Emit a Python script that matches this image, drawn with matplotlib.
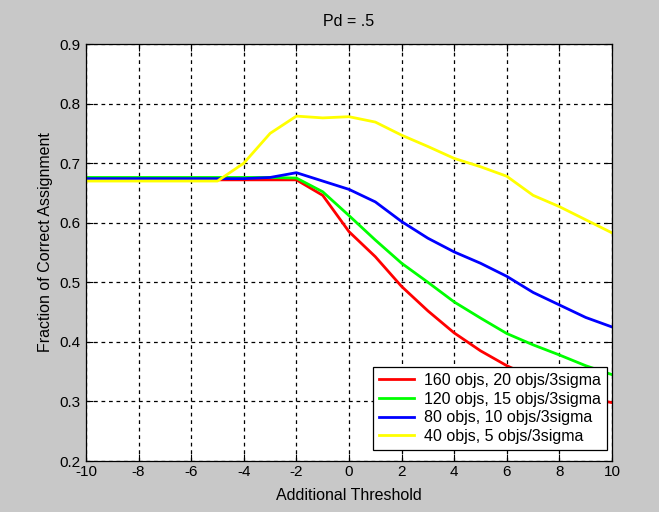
import matplotlib
matplotlib.use("Agg")
import matplotlib.pyplot as plt

plt.rcParams["font.family"] = ["Liberation Sans", "DejaVu Sans"]
plt.rcParams["axes.unicode_minus"] = False

threshold = list(range(-10, 11))

frac_160 = [0.672, 0.672, 0.672, 0.672, 0.672, 0.672, 0.672, 0.672, 0.672, 0.646,
            0.585, 0.543, 0.493, 0.452, 0.415, 0.385, 0.360, 0.340, 0.322, 0.306, 0.298]
frac_120 = [0.676, 0.676, 0.676, 0.676, 0.676, 0.676, 0.676, 0.676, 0.675, 0.652,
            0.612, 0.571, 0.532, 0.500, 0.467, 0.440, 0.414, 0.395, 0.378, 0.360, 0.345]
frac_80 = [0.674, 0.674, 0.674, 0.674, 0.674, 0.674, 0.674, 0.676, 0.684, 0.670,
           0.656, 0.635, 0.602, 0.574, 0.551, 0.532, 0.510, 0.483, 0.462, 0.441, 0.425]
frac_40 = [0.670, 0.670, 0.670, 0.670, 0.670, 0.670, 0.700, 0.750, 0.779, 0.776,
           0.778, 0.769, 0.747, 0.728, 0.708, 0.694, 0.678, 0.646, 0.627, 0.605, 0.583]

series = [
    ("160 objs, 20 objs/3sigma", frac_160, "#ff0000"),
    ("120 objs, 15 objs/3sigma", frac_120, "#00ff00"),
    ("80 objs, 10 objs/3sigma", frac_80, "#0000ff"),
    ("40 objs, 5 objs/3sigma", frac_40, "#ffff00"),
]

fig = plt.figure(figsize=(6.59, 5.12), dpi=100, facecolor="#c8c8c8")
ax = fig.add_axes([0.1305, 0.0996, 0.7982, 0.8144])
ax.set_facecolor("white")

for label, values, color in series:
    ax.plot(threshold, values, color=color, lw=2, label=label)

ax.set_xlim(-10, 10)
ax.set_ylim(0.2, 0.9)
ax.set_xticks(range(-10, 11, 2))
ax.set_yticks([0.2, 0.3, 0.4, 0.5, 0.6, 0.7, 0.8, 0.9])
ax.set_yticklabels(["0.2", "0.3", "0.4", "0.5", "0.6", "0.7", "0.8", "0.9"])
ax.tick_params(direction="in", length=5, labelsize=11, top=True, right=True,
               labeltop=False, labelright=False, width=0.8, pad=3)
ax.tick_params(axis="y", pad=4)
ax.grid(True, color="black", linestyle=(0, (3, 3)), linewidth=0.9)
for spine in ax.spines.values():
    spine.set_linewidth(0.9)

ax.set_title("Pd = .5", fontsize=11.5, pad=13)
ax.set_xlabel("Additional Threshold", fontsize=11.5, labelpad=6)
ax.set_ylabel("Fraction of Correct Assignment", fontsize=11.5)
ax.yaxis.set_label_coords(-0.063, 0.525)

# legend box pinned just inside the lower right corner
leg = ax.legend(loc="lower right", bbox_to_anchor=(0.9905, 0.0264),
                fontsize=11.5, fancybox=False, framealpha=1,
                edgecolor="black", borderpad=0.4, handlelength=2.2,
                handletextpad=0.6, labelspacing=0.22, borderaxespad=0)
leg.get_frame().set_linewidth(0.9)

fig.savefig("out.png", dpi=100, facecolor=fig.get_facecolor())
